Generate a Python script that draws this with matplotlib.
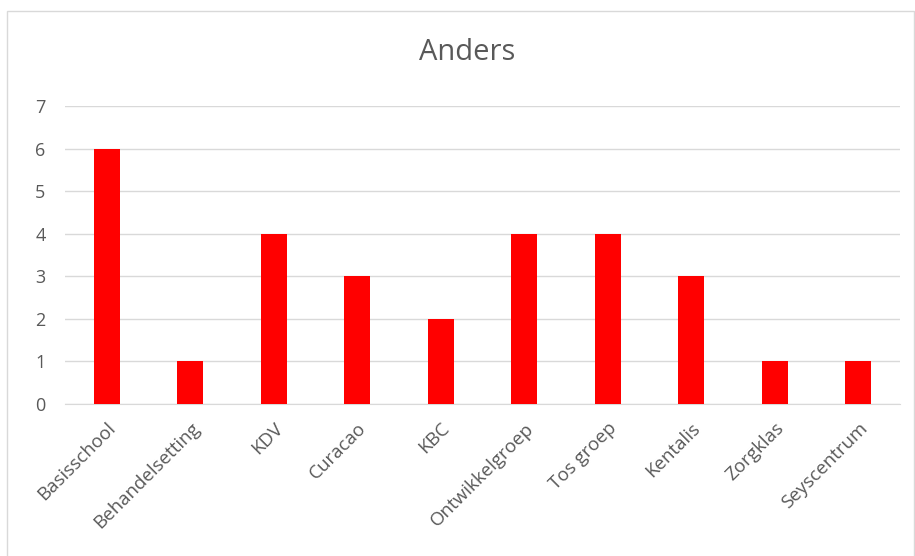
import matplotlib.pyplot as plt
from matplotlib.patches import Rectangle

categories = ["Basisschool", "Behandelsetting", "KDV", "Curacao", "KBC",
              "Ontwikkelgroep", "Tos groep", "Kentalis", "Zorgklas", "Seyscentrum"]
values = [6, 1, 4, 3, 2, 4, 4, 3, 1, 1]
yticks = [0, 1, 2, 3, 4, 5, 6, 7]

plt.rcParams['font.family'] = ['Open Sans', 'DejaVu Sans']
grey = '#595959'

fig = plt.figure(figsize=(9.15, 5.56), dpi=100)
ax = fig.add_axes([65 / 915, 1 - 404 / 556, 835 / 915, 298 / 556])

x = range(len(categories))
ax.bar(x, values, width=0.31, color='#ff0000', zorder=3)

ax.set_xlim(-0.5, len(categories) - 0.5)
ax.set_ylim(0, 7)
ax.set_yticks(yticks)
ax.set_yticklabels([str(t) for t in yticks], color=grey, fontsize=13)
ax.set_xticks(list(x))
ax.set_xticklabels(categories, rotation=45, ha='right', va='top',
                   rotation_mode='anchor', color=grey, fontsize=13.5)
ax.tick_params(axis='both', length=0)
ax.tick_params(axis='x', pad=11)
ax.tick_params(axis='y', pad=14)

ax.grid(axis='y', color='#d9d9d9', linewidth=1, zorder=0)
for side in ['top', 'right', 'left']:
    ax.spines[side].set_visible(False)
ax.spines['bottom'].set_color('#d9d9d9')

fig.text(467 / 915, 1 - 53 / 556, "Anders", ha='center', va='center',
         fontsize=21, color=grey)

# chart border
fig.patches.append(Rectangle((7 / 915, -0.01), 907 / 915, 1.01 - 11 / 556,
                             transform=fig.transFigure, fill=False,
                             edgecolor='#d9d9d9', linewidth=1))

fig.savefig('out.png', dpi=100)
